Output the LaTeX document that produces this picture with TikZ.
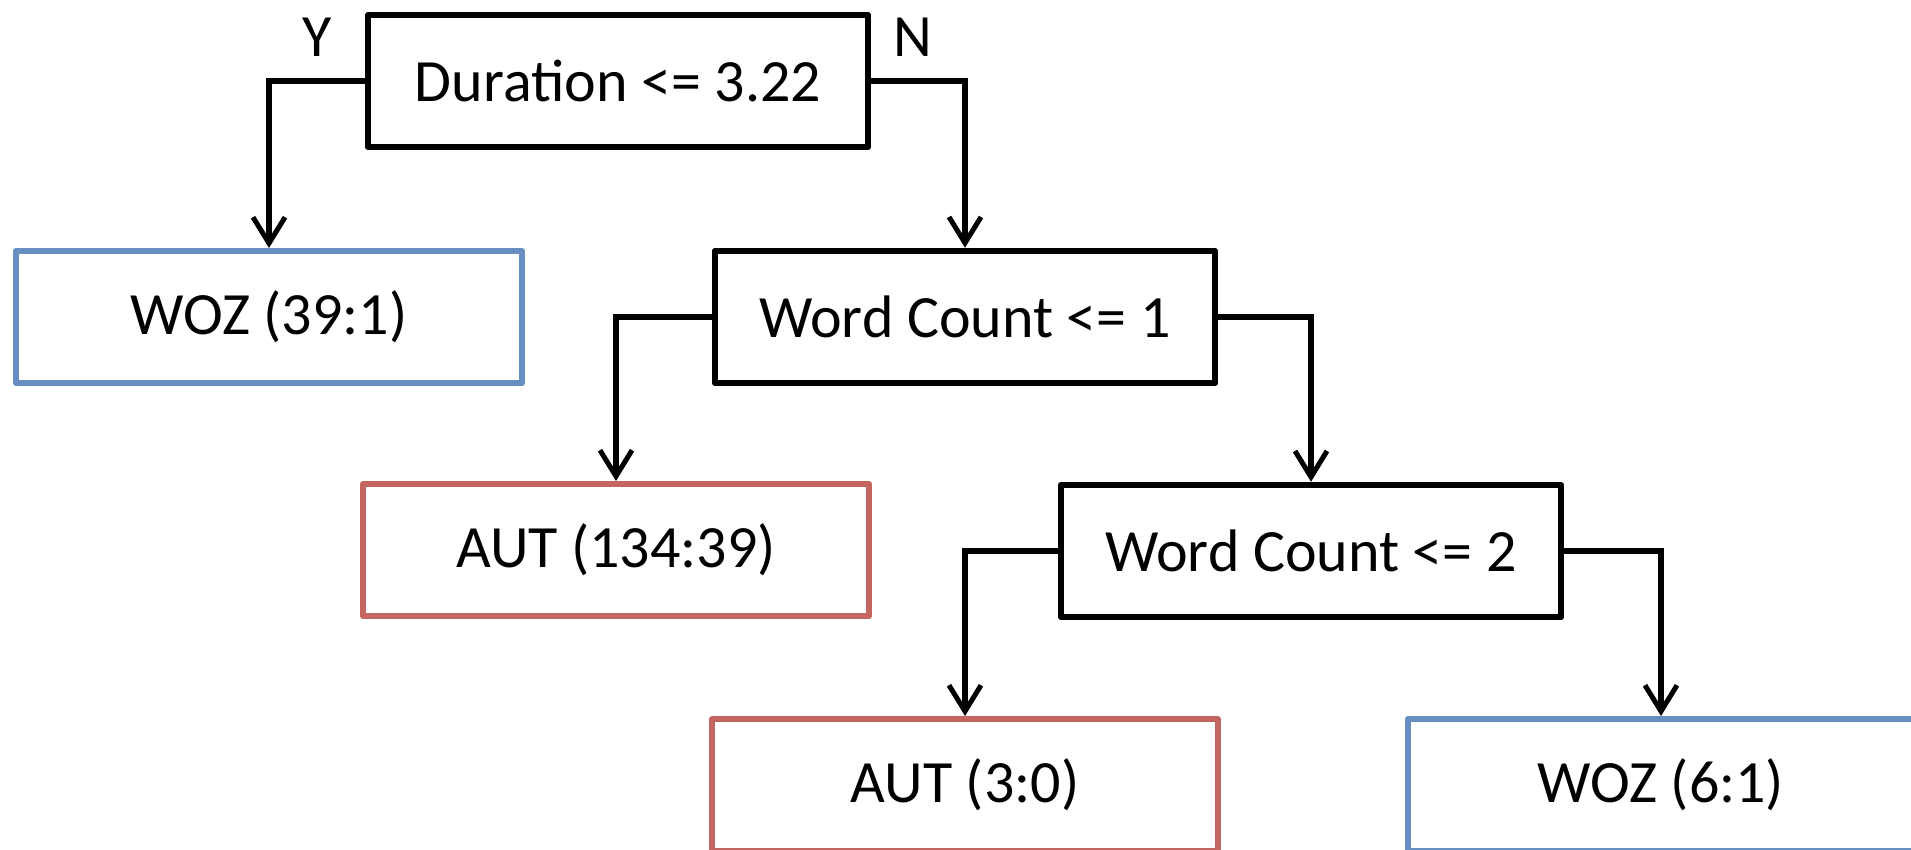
\documentclass[tikz,border=0pt]{standalone}
\usepackage{fontspec}
\setmainfont{Carlito}
\usetikzlibrary{arrows.meta}
\definecolor{leafblue}{RGB}{103,142,192}
\definecolor{leafred}{RGB}{196,101,96}
\tikzset{
  box/.style={draw, line width=6.5pt, line join=round, minimum width=500pt, minimum height=132pt, inner sep=0pt, font=\fontsize{60}{72}\selectfont},
  testbox/.style={box, draw=black},
  bluebox/.style={box, draw=leafblue, line width=6pt},
  redbox/.style={box, draw=leafred, line width=6pt},
  conn/.style={line width=5.5pt, line join=miter, -{Straight Barb[length=26pt,width=32pt,line width=5pt]}},
  lbl/.style={font=\fontsize{60}{72}\selectfont, inner sep=0pt}
}
\begin{document}
\begin{tikzpicture}[x=1pt,y=-1pt]
\useasboundingbox (0,0) rectangle (1911,850);
\begin{scope}
\clip (0,0) rectangle (1911,850);
\node[testbox] (root) at (618,81) {Duration <= 3.22};
\node[bluebox, minimum width=506pt] (woz1) at (269,317) {WOZ (39:1)};
\node[testbox] (wc1) at (965,317) {Word Count <= 1};
\node[redbox, minimum width=506pt] (aut1) at (616,550) {AUT (134:39)};
\node[testbox] (wc2) at (1311,551) {Word Count <= 2};
\node[redbox, minimum width=506pt] (aut2) at (965,785) {AUT (3:0)};
\node[bluebox, minimum width=506pt] (woz2) at (1661,785) {WOZ (6:1)};
\end{scope}
\node[lbl] (y) at (317,37) {Y};
\node[lbl] (n) at (913,37) {N};
\draw[conn] (root.west) -| (woz1.north);
\draw[conn] (root.east) -| (wc1.north);
\draw[conn] (wc1.west) -| (aut1.north);
\draw[conn] (wc1.east) -| (wc2.north);
\draw[conn] (wc2.west) -| (aut2.north);
\draw[conn] (wc2.east) -| (woz2.north);
\end{tikzpicture}
\end{document}
